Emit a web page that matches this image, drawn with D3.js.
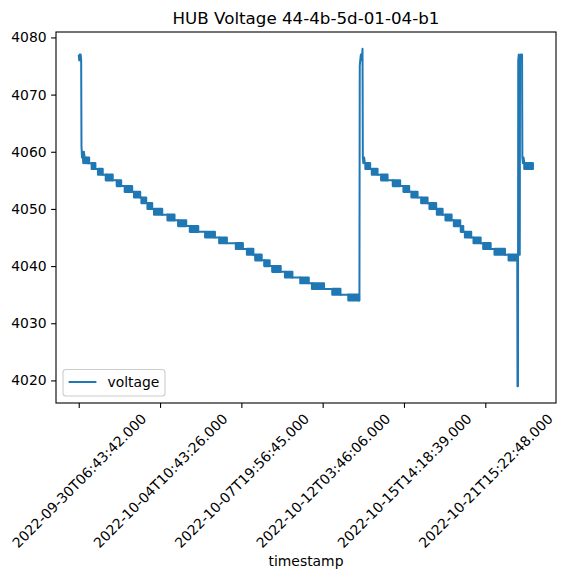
<!DOCTYPE html>
<html>
<head>
<meta charset="utf-8">
<script src="https://cdn.jsdelivr.net/npm/d3@7"></script>
<style>
  body { margin: 0; background: #fff; }
  svg text { font-family: "DejaVu Sans", sans-serif; fill: #000; }
</style>
</head>
<body>
<div id="chart"></div>
<script>
// x ticks: row position in the frame and its timestamp label
const xTickIdx = [0, 1000, 2000, 3000, 4000, 5000];
const xTickLabels = [
  "2022-09-30T06:43:42.000",
  "2022-10-04T10:43:26.000",
  "2022-10-07T19:56:45.000",
  "2022-10-12T03:46:06.000",
  "2022-10-15T14:18:39.000",
  "2022-10-21T15:22:48.000",
];
const yTicks = [4020, 4030, 4040, 4050, 4060, 4070, 4080];

// dense stretches where voltage flips between low and low+1
const blockLow = [
  4058, 4057, 4056, 4055, 4054, 4053, 4052, 4051, 4050, 4049, 4048, 4047, 4046,
  4045, 4044, 4043, 4042, 4041, 4040, 4039, 4038, 4037, 4036, 4035, 4034,
  4057, 4056, 4055, 4054, 4053, 4052, 4051, 4050, 4049, 4048, 4047, 4046, 4045,
  4044, 4043, 4042, 4041,
  4057,
];
const blockStart = [
  90, 160, 238, 333, 468, 566, 681, 772, 846, 927, 1092, 1223, 1367,
  1555, 1728, 1933, 2069, 2171, 2282, 2380, 2537, 2725, 2869, 3119, 3316,
  3526, 3605, 3719, 3863, 3994, 4092, 4212, 4314, 4405, 4511, 4614, 4699, 4750,
  4856, 4975, 5114, 5287,
  5480,
];
const blockEnd = [
  127, 204, 294, 417, 521, 656, 755, 829, 903, 1026, 1177, 1321, 1469,
  1674, 1821, 2018, 2147, 2249, 2347, 2483, 2627, 2828, 3016, 3218, 3447,
  3583, 3674, 3797, 3952, 4063, 4166, 4289, 4395, 4474, 4585, 4691, 4728, 4826,
  4942, 5065, 5241, 5393,
  5585,
];

// single readings around the charge spikes
const spikeIdx = [
  0, 6, 12, 18, 24, 30, 34, 40, 48, 56, 64, 72, 78,
  3452, 3456, 3462, 3470, 3478, 3486, 3490, 3494, 3500, 3510, 3518,
  5396, 5397, 5398, 5399, 5400, 5401, 5402, 5403, 5405, 5412, 5418, 5424, 5427, 5436, 5446, 5452, 5456, 5462, 5470,
  5590,
];
const spikeVolt = [
  4077, 4076, 4077, 4076, 4077, 4076, 4061, 4059, 4060, 4058, 4060, 4059, 4058,
  4034, 4075, 4076, 4077, 4076, 4077, 4078, 4059, 4058, 4059, 4058,
  4019, 4041, 4019, 4041, 4019, 4041, 4019, 4041, 4076, 4077, 4076, 4042, 4076, 4077, 4076, 4077, 4059, 4058, 4059,
  4057,
];

const W = 564, H = 579;
const margin = { top: 32, right: 8, bottom: 176, left: 56 };
const blue = "#1f77b4";

const blocks = blockLow.map((v, i) => ({ low: v, s: blockStart[i], e: blockEnd[i] }));
const points = spikeIdx.map((d, i) => ({ i: d, v: spikeVolt[i] }));
blocks.forEach((b) => {
  points.push({ i: b.s, v: b.low + 1 });
  points.push({ i: b.e, v: b.low });
});
points.sort((a, b) => a.i - b.i);

const svg = d3.select("#chart").append("svg")
  .attr("width", W).attr("height", H);

// matplotlib-like 5% margins around the data
const xExt = d3.extent(points, (d) => d.i);
const yExt = d3.extent(points, (d) => d.v);
const xPad = (xExt[1] - xExt[0]) * 0.05;
const yPad = (yExt[1] - yExt[0]) * 0.05;

const x = d3.scaleLinear()
  .domain([xExt[0] - xPad, xExt[1] + xPad])
  .range([margin.left, W - margin.right]);
const y = d3.scaleLinear()
  .domain([yExt[0] - yPad, yExt[1] + yPad])
  .range([H - margin.bottom, margin.top]);

const plot = svg.append("g");

// thin trace
const line = d3.line().x((d) => x(d.i)).y((d) => y(d.v));
plot.append("path")
  .datum(points)
  .attr("fill", "none")
  .attr("stroke", blue)
  .attr("stroke-width", 2)
  .attr("stroke-linejoin", "round")
  .attr("d", line);

// flicker blocks
plot.selectAll(".blk")
  .data(blocks)
  .enter()
  .append("rect")
  .attr("x", (d) => x(d.s))
  .attr("y", (d) => y(d.low + 1))
  .attr("width", (d) => x(d.e) - x(d.s))
  .attr("height", (d) => y(d.low) - y(d.low + 1))
  .attr("fill", blue)
  .attr("stroke", blue)
  .attr("stroke-width", 2.2)
  .attr("stroke-linejoin", "round");

// frame
svg.append("rect")
  .attr("x", margin.left).attr("y", margin.top)
  .attr("width", W - margin.left - margin.right)
  .attr("height", H - margin.top - margin.bottom)
  .attr("fill", "none").attr("stroke", "#000").attr("stroke-width", 1.1);

// y axis
const yAxis = svg.append("g")
  .attr("transform", `translate(${margin.left},0)`)
  .call(d3.axisLeft(y).tickValues(yTicks).tickSize(4.9).tickPadding(4.5).tickFormat(d3.format("d")));
yAxis.select(".domain").remove();
yAxis.selectAll("line").attr("stroke", "#000").attr("stroke-width", 1.1);
yAxis.selectAll("text").style("font-size", "13.9px").attr("fill", "#000");

// x axis with rotated labels
const xAxis = svg.append("g")
  .attr("transform", `translate(0,${H - margin.bottom})`)
  .call(d3.axisBottom(x).tickValues(xTickIdx).tickSize(4.9).tickFormat((d, i) => xTickLabels[i]));
xAxis.select(".domain").remove();
xAxis.selectAll("line").attr("stroke", "#000").attr("stroke-width", 1.1);
xAxis.selectAll("text")
  .style("font-size", "13.9px")
  .attr("fill", "#000")
  .attr("y", 0).attr("dy", null)
  .attr("text-anchor", "middle")
  .attr("dominant-baseline", "central")
  .attr("transform", function () {
    const w = this.getComputedTextLength();
    const half = ((w + 16) * Math.SQRT1_2) / 2;
    return `translate(0,${7.5 + half}) rotate(-45)`;
  });

svg.append("text")
  .attr("x", (margin.left + W - margin.right) / 2)
  .attr("y", 566)
  .attr("text-anchor", "middle")
  .style("font-size", "13.9px")
  .text("timestamp");

svg.append("text")
  .attr("x", (margin.left + W - margin.right) / 2)
  .attr("y", 24)
  .attr("text-anchor", "middle")
  .style("font-size", "16.7px")
  .text("HUB Voltage 44-4b-5d-01-04-b1");

// legend
const leg = svg.append("g").attr("transform", `translate(${margin.left + 7},${H - margin.bottom - 7 - 26.5})`);
leg.append("rect")
  .attr("width", 102).attr("height", 26.5).attr("rx", 3)
  .attr("fill", "#fff").attr("fill-opacity", 0.8)
  .attr("stroke", "#ccc").attr("stroke-width", 1.1);
leg.append("line")
  .attr("x1", 5.6).attr("x2", 33.4).attr("y1", 12.5).attr("y2", 12.5)
  .attr("stroke", blue).attr("stroke-width", 2);
leg.append("text")
  .attr("x", 44.5).attr("y", 12.5)
  .attr("dominant-baseline", "central")
  .style("font-size", "13.9px")
  .text("voltage");
</script>
</body>
</html>
